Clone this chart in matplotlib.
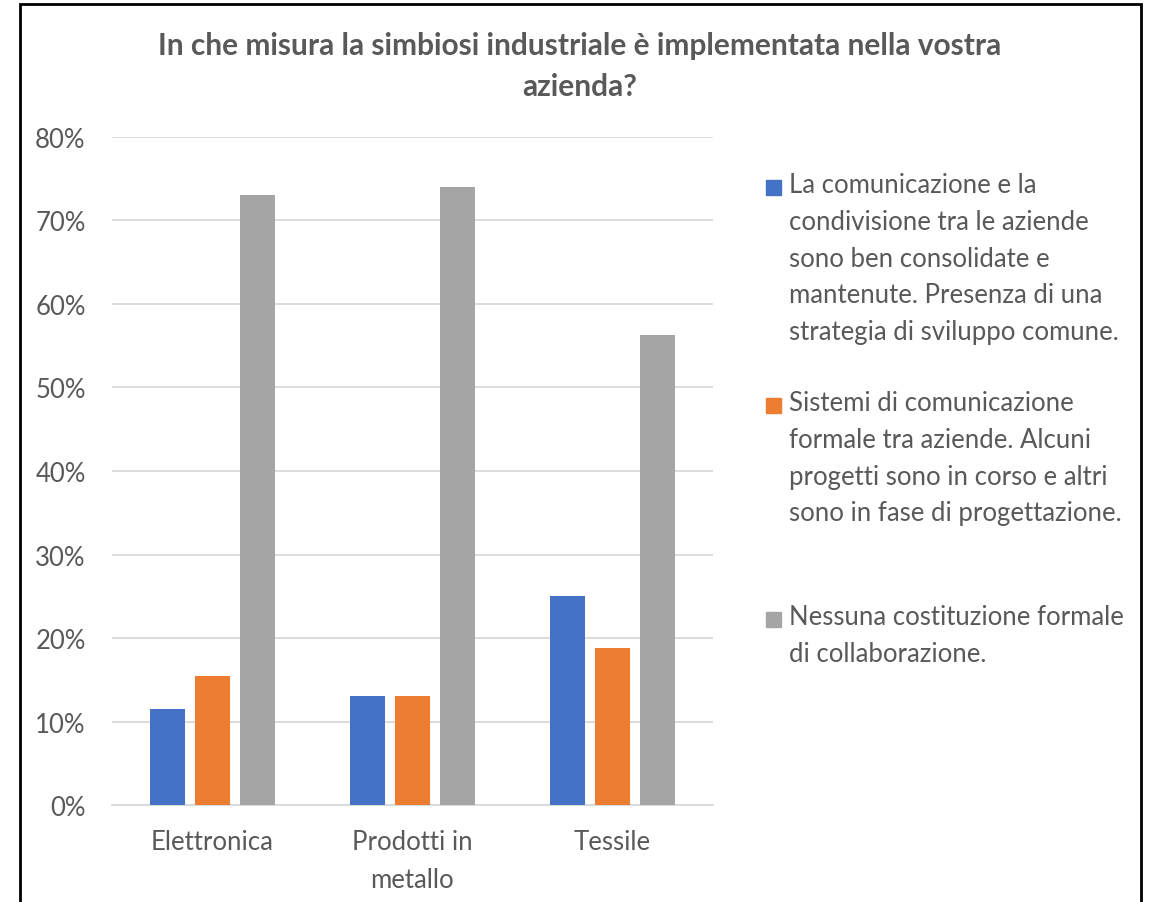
import matplotlib.pyplot as plt
import numpy as np
from matplotlib.patches import Rectangle

plt.rcParams['font.family'] = ['Lato', 'DejaVu Sans']

categories = ["Elettronica", "Prodotti in\nmetallo", "Tessile"]
series_names = [
    "La comunicazione e la\ncondivisione tra le aziende\nsono ben consolidate e\nmantenute. Presenza di una\nstrategia di sviluppo comune.",
    "Sistemi di comunicazione\nformale tra aziende. Alcuni\nprogetti sono in corso e altri\nsono in fase di progettazione.",
    "Nessuna costituzione formale\ndi collaborazione.",
]
comunicazione = [11.5, 13.0, 25.0]
sistemi = [15.4, 13.0, 18.75]
nessuna = [73.1, 74.0, 56.25]
colors = ["#4472C4", "#ED7D31", "#A5A5A5"]
text_color = "#595959"

fig = plt.figure(figsize=(11.55, 9.03), dpi=100)
ax = fig.add_axes([0.097, 0.1074, 0.52, 0.7398])

x = np.arange(len(categories))
w = 0.175
step = 0.225
for i, vals in enumerate([comunicazione, sistemi, nessuna]):
    ax.bar(x + (i - 1) * step, vals, width=w, color=colors[i], zorder=3)

ax.set_xlim(-0.5, 2.5)
ax.set_ylim(0, 80)
ax.set_yticks(range(0, 81, 10))
ax.set_yticklabels([f"{v}%" for v in range(0, 81, 10)])
ax.set_xticks(x)
ax.set_xticklabels(categories, linespacing=1.65)
ax.grid(axis='y', color="#D9D9D9", linewidth=1.3, zorder=0)
for s in ['top', 'right', 'left']:
    ax.spines[s].set_visible(False)
ax.spines['bottom'].set_color("#D9D9D9")
ax.spines['bottom'].set_linewidth(1.3)
ax.tick_params(axis='both', length=0, labelsize=18.5, labelcolor=text_color)
ax.tick_params(axis='y', pad=19)
ax.tick_params(axis='x', pad=17)

fig.text(0.502, 0.926, "In che misura la simbiosi industriale è implementata nella vostra\nazienda?",
         ha='center', va='center', fontsize=21.5, fontweight='bold', color=text_color,
         linespacing=1.57)

# legend
legend_tops = [188, 406, 620]
for name, color, ytop in zip(series_names, colors, legend_tops):
    fig.patches.append(Rectangle((766 / 1155, 1 - (ytop + 8) / 903), 15 / 1155, 15 / 903,
                                 transform=fig.transFigure, color=color))
    fig.text(789 / 1155, 1 - (ytop - 15) / 903, name, ha='left', va='top',
             fontsize=18.5, color=text_color, linespacing=1.59)

# outer border
fig.patches.append(Rectangle((20 / 1155, -0.01), 1121 / 1155, 1.01 - 5 / 903,
                             transform=fig.transFigure, fill=False,
                             edgecolor='black', linewidth=2))

fig.savefig("out.png", dpi=100)
